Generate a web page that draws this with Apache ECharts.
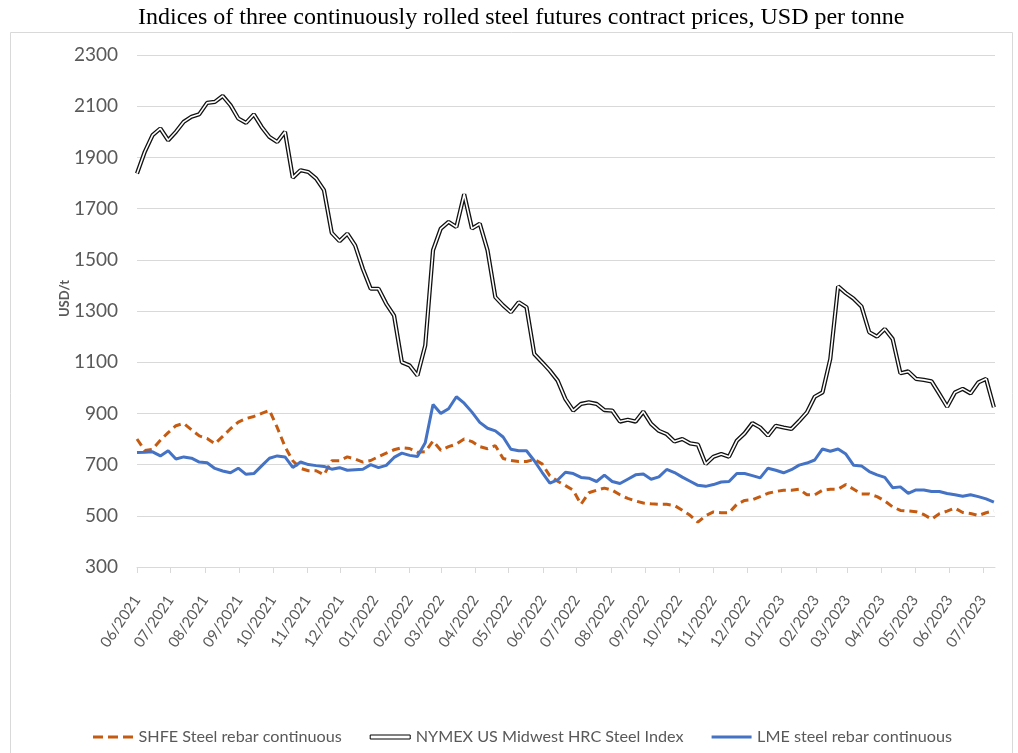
<!DOCTYPE html>
<html>
<head>
<meta charset="utf-8">
<script src="https://cdn.jsdelivr.net/npm/echarts@6/dist/echarts.min.js"></script>
<style>html,body{margin:0;padding:0;background:#fff;}#chart{width:1018px;height:753px;}</style>
</head>
<body>
<div id="chart"></div>
<script>
const weeks = [
'2021-06-01','2021-06-08','2021-06-15','2021-06-22','2021-06-29','2021-07-06','2021-07-13','2021-07-20','2021-07-27',
'2021-08-03','2021-08-10','2021-08-17','2021-08-24','2021-08-31','2021-09-07','2021-09-14','2021-09-21','2021-09-28',
'2021-10-05','2021-10-12','2021-10-19','2021-10-26','2021-11-02','2021-11-09','2021-11-16','2021-11-23','2021-11-30',
'2021-12-07','2021-12-14','2021-12-21','2021-12-28','2022-01-04','2022-01-11','2022-01-18','2022-01-25',
'2022-02-01','2022-02-08','2022-02-15','2022-02-22','2022-03-01','2022-03-08','2022-03-15','2022-03-22','2022-03-29',
'2022-04-05','2022-04-12','2022-04-19','2022-04-26','2022-05-03','2022-05-10','2022-05-17','2022-05-24','2022-05-31',
'2022-06-07','2022-06-14','2022-06-21','2022-06-28','2022-07-05','2022-07-12','2022-07-19','2022-07-26',
'2022-08-02','2022-08-09','2022-08-16','2022-08-23','2022-08-30','2022-09-06','2022-09-13','2022-09-20','2022-09-27',
'2022-10-04','2022-10-11','2022-10-18','2022-10-25','2022-11-01','2022-11-08','2022-11-15','2022-11-22','2022-11-29',
'2022-12-06','2022-12-13','2022-12-20','2022-12-27','2023-01-03','2023-01-10','2023-01-17','2023-01-24','2023-01-31',
'2023-02-07','2023-02-14','2023-02-21','2023-02-28','2023-03-07','2023-03-14','2023-03-21','2023-03-28',
'2023-04-04','2023-04-11','2023-04-18','2023-04-25','2023-05-02','2023-05-09','2023-05-16','2023-05-23','2023-05-30',
'2023-06-06','2023-06-13','2023-06-20','2023-06-27','2023-07-04','2023-07-11'
];

const shfe = [
800,755,760,795,825,852,861,836,812,802,781,810,840,866,880,888,900,912,845,770,
715,685,676,676,660,715,715,730,722,710,716,731,745,758,766,763,748,750,792,756,
770,780,800,790,770,762,774,724,716,712,712,720,703,656,635,618,600,545,590,600,
608,600,582,568,558,550,547,545,545,540,522,502,475,500,515,512,512,545,560,563,
575,588,595,600,600,604,582,582,600,604,604,622,604,585,585,575,558,535,521,519,
516,505,487,508,518,530,513,509,501,512,519
];

const nymex = [
1837,1922,1987,2013,1967,2000,2039,2059,2069,2113,2117,2140,2104,2052,2035,2068,2019,1980,1960,2000,
1821,1850,1843,1817,1772,1605,1573,1602,1556,1464,1387,1387,1328,1282,1100,1087,1048,1165,1537,1622,
1648,1628,1756,1622,1641,1537,1354,1322,1295,1334,1315,1132,1100,1067,1028,956,911,937,943,937,
913,911,868,875,868,907,859,832,819,790,800,783,778,702,731,741,731,793,822,862,
845,813,852,845,839,870,904,965,982,1113,1396,1370,1348,1318,1217,1200,1230,1191,1057,1064,
1035,1031,1025,976,926,982,996,978,1021,1035,924
];

const lme = [
747,748,750,734,754,722,730,725,710,707,685,675,668,686,662,665,695,725,734,730,
689,710,700,696,693,682,688,678,680,682,700,688,697,728,745,736,732,785,935,900,
918,965,940,905,865,842,832,808,760,754,754,715,670,628,640,670,665,650,647,634,
659,634,626,643,660,663,643,652,681,669,651,635,619,615,622,632,634,665,665,657,
648,686,678,668,680,698,706,718,761,752,761,741,697,695,673,660,650,610,613,588,
601,601,595,595,587,582,576,582,575,566,553
];

const yTicks = { min: 300, max: 2300, step: 200 };
const titleText = 'Indices of three continuously rolled steel futures contract prices, USD per tonne';
const names = ['SHFE Steel rebar continuous', 'NYMEX US Midwest HRC Steel Index', 'LME steel rebar continuous'];

function pairs(vals) { return weeks.map((d, i) => [d, vals[i]]); }

const FONT = 'Lato';
const chart = echarts.init(document.getElementById('chart'), null, { renderer: 'canvas' });
chart.setOption({
  animation: false,
  backgroundColor: '#fff',
  title: {
    text: titleText,
    left: 133, top: 1,
    textStyle: { fontFamily: 'Liberation Serif', fontSize: 24, fontWeight: 'normal', color: '#000' }
  },
  graphic: [{
    type: 'rect', left: 8, top: 30, silent: true, z: -10,
    shape: { width: 1002, height: 760 },
    style: { fill: 'none', stroke: '#d9d9d9', lineWidth: 1 }
  }],
  legend: {
    left: 88, top: 724,
    itemWidth: 41, itemHeight: 14, itemGap: 28,
    textStyle: { fontFamily: FONT, fontSize: 16.2, color: '#595959' },
    data: [
      { name: names[0], icon: 'path://M0,0M0,14M0,5.5H10V8.5H0Z M15,5.5H25V8.5H15Z M30,5.5H40V8.5H30Z', itemStyle: { color: '#C55A11' } },
      { name: names[1], icon: 'path://M0,0M0,14M0,5H40V9H0Z', itemStyle: { color: '#fff', borderColor: '#000', borderWidth: 1 } },
      { name: names[2], icon: 'path://M0,0M0,14M0,5.5H40V8.5H0Z', itemStyle: { color: '#4472C4' } }
    ]
  },
  grid: { left: 137, right: 23, top: 55, bottom: 186 },
  xAxis: {
    type: 'time',
    min: '2021-06-01', max: '2023-07-12',
    splitNumber: 25,
    minInterval: 28 * 86400000, maxInterval: 31 * 86400000,
    axisLine: { show: true, lineStyle: { color: '#d9d9d9', width: 1 } },
    axisTick: { show: true, length: 6, lineStyle: { color: '#d9d9d9' } },
    splitLine: { show: false },
    axisLabel: {
      rotate: 56, margin: 30, formatter: '{MM}/{yyyy}',
      fontFamily: FONT, fontSize: 15, color: '#595959', hideOverlap: false
    }
  },
  yAxis: {
    type: 'value', min: yTicks.min, max: yTicks.max, interval: yTicks.step,
    name: 'USD/t', nameLocation: 'middle', nameGap: 66, nameRotate: 90, nameMoveOverlap: false,
    nameTextStyle: { fontFamily: FONT, fontSize: 13, fontWeight: 'bold', color: '#595959', padding: [0, 0, 0, 25] },
    axisLine: { show: false }, axisTick: { show: false },
    splitLine: { lineStyle: { color: '#d9d9d9', width: 1 } },
    axisLabel: { margin: 19, fontFamily: FONT, fontSize: 19, color: '#595959', formatter: function (v) { return String(v); } }
  },
  series: [
    {
      name: names[0], type: 'line', data: pairs(shfe), showSymbol: false, symbol: 'none',
      lineStyle: { color: '#C55A11', width: 3, type: [8, 5] }, itemStyle: { color: '#C55A11' }, z: 2
    },
    {
      name: names[1], type: 'line', data: pairs(nymex), showSymbol: false, symbol: 'none',
      lineStyle: { color: '#111', width: 4.2 }, itemStyle: { color: '#111' }, z: 3
    },
    {
      name: 'nymex-inner', type: 'line', data: pairs(nymex), showSymbol: false, symbol: 'none',
      lineStyle: { color: '#fff', width: 1.6 }, z: 4, silent: true
    },
    {
      name: names[2], type: 'line', data: pairs(lme), showSymbol: false, symbol: 'none',
      lineStyle: { color: '#4472C4', width: 3 }, itemStyle: { color: '#4472C4' }, z: 5
    }
  ]
});
</script>
</body>
</html>
